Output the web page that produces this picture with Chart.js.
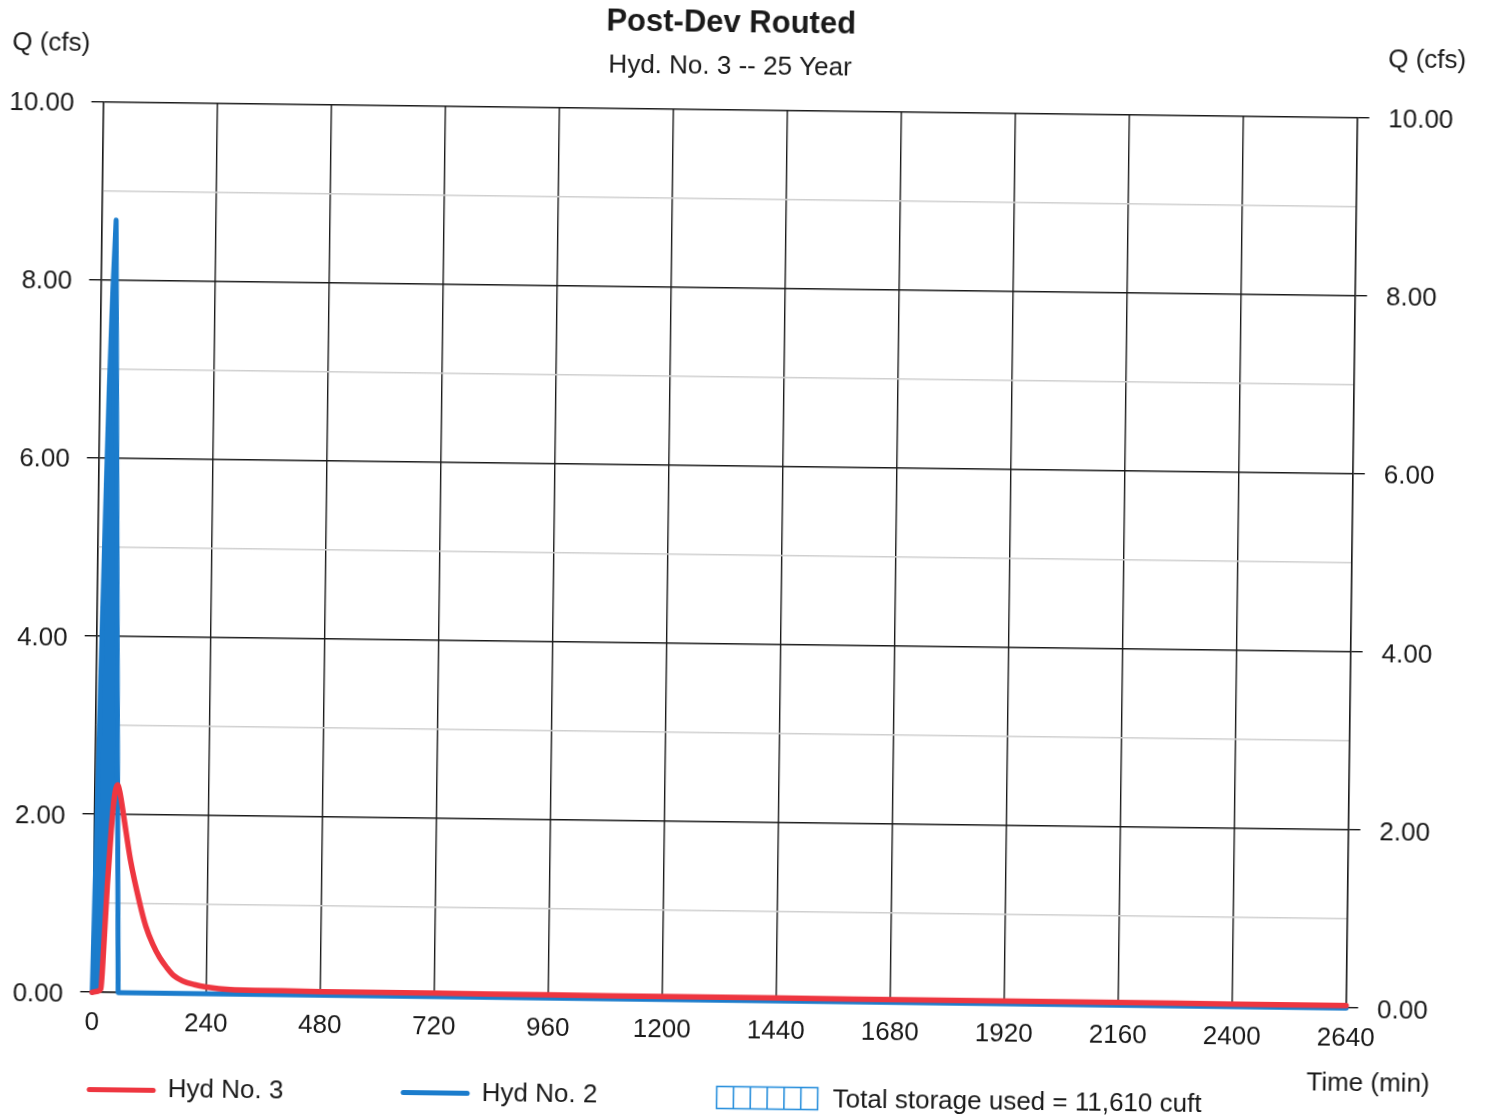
<!DOCTYPE html>
<html>
<head>
<meta charset="utf-8">
<title>Post-Dev Routed</title>
<script src="https://cdn.jsdelivr.net/npm/chart.js@4.4.1/dist/chart.umd.min.js"></script>
<style>
  html, body { margin: 0; padding: 0; background: #ffffff; overflow: hidden; }
  #wrap { position: absolute; left: 0; top: 0; width: 1486px; height: 1117px;
          transform: rotate(0.72deg); transform-origin: 724.75px 554.75px; }
  canvas { display: block; }
</style>
</head>
<body>
<div id="wrap"><canvas id="hydro" width="1486" height="1117"></canvas></div>
<script>
// Outflow hydrograph (Hyd No. 3): time in minutes, flow in cfs
const outTime = [0, 10, 18, 23, 29, 35, 40, 44, 48, 53, 62, 77, 98, 111, 126, 141, 156, 171, 190, 215, 240, 290, 360, 480, 720, 960, 1200, 1440, 1680, 1920, 2160, 2400, 2640];
const outFlow = [0, 0.01, 0.04, 0.5, 1.2, 1.75, 2.12, 2.28, 2.33, 2.25, 1.97, 1.49, 1.0, 0.75, 0.55, 0.4, 0.29, 0.2, 0.14, 0.1, 0.075, 0.05, 0.045, 0.04, 0.038, 0.035, 0.034, 0.032, 0.031, 0.03, 0.03, 0.028, 0.028];

// Inflow hydrograph (Hyd No. 2)
const inTime = [0, 5, 10, 15, 20, 25, 30, 48, 54.6, 2640];
const inFlow = [0, 1.8, 3.6, 5.3, 6.8, 7.9, 8.67, 2.33, 0, 0];

// Axis ticks
const timeTicks = [0, 240, 480, 720, 960, 1200, 1440, 1680, 1920, 2160, 2400, 2640];
const flowMin = 0, flowMax = 10, flowStep = 1;

// Text
const titleText = 'Post-Dev Routed';
const subtitleText = 'Hyd. No. 3 -- 25 Year';
const yTitle = 'Q (cfs)';
const xTitle = 'Time (min)';
const legendLabels = ['Hyd No. 3', 'Hyd No. 2', 'Total storage used = 11,610 cuft'];

const RED = '#ee3640';
const BLUE = '#1b7ccc';
const HATCH = '#2a90dc';
const INK = '#1a1a1a';
const FONT = '"Liberation Sans", Arial, sans-serif';

const toPoints = (xs, ys) => xs.map((x, i) => ({ x: x, y: ys[i] }));

const isMajor = v => Math.round(v) % 2 === 0;

function flowAxis(position) {
  return {
    type: 'linear',
    position: position,
    min: flowMin,
    max: flowMax,
    afterFit: s => { s.width = position === 'left' ? 97.75 : 134.25; },
    ticks: {
      stepSize: flowStep,
      autoSkip: false,
      padding: position === 'left' ? 17 : 19,
      labelOffset: 2.5,
      color: INK,
      font: { family: FONT, size: 26 },
      callback: v => isMajor(v) ? v.toFixed(2) : ''
    },
    grid: {
      display: true,
      drawOnChartArea: position === 'left',
      tickLength: 12,
      lineWidth: 1.4,
      color: ctx => (ctx.tick && !isMajor(ctx.tick.value)) ? '#cfcfcf' : INK,
      tickColor: ctx => (ctx.tick && !isMajor(ctx.tick.value)) ? 'rgba(0,0,0,0)' : INK,
      tickWidth: 1.4
    },
    border: { display: true, color: INK, width: 1.4 }
  };
}

// Titles, axis captions and the legend row
const annotations = {
  id: 'annotations',
  afterDraw(chart) {
    const ctx = chart.ctx;
    ctx.save();
    ctx.fillStyle = INK;
    ctx.textBaseline = 'middle';

    ctx.textAlign = 'center';
    ctx.font = 'bold 31px ' + FONT;
    ctx.fillText(titleText, 724.5, 23);
    ctx.font = '26px ' + FONT;
    ctx.fillText(subtitleText, 724, 67);

    ctx.textAlign = 'left';
    ctx.fillText(yTitle, 6, 52);
    ctx.fillText(yTitle, 1382, 52);
    ctx.fillText(xTitle, 1313, 1076);

    // legend swatches
    ctx.lineCap = 'round';
    ctx.lineWidth = 5;
    ctx.strokeStyle = RED;
    ctx.beginPath(); ctx.moveTo(96, 1097.4); ctx.lineTo(160, 1097.4); ctx.stroke();
    ctx.strokeStyle = BLUE;
    ctx.beginPath(); ctx.moveTo(410, 1096.5); ctx.lineTo(474, 1096.5); ctx.stroke();

    ctx.lineCap = 'butt';
    ctx.lineWidth = 1.6;
    ctx.strokeStyle = HATCH;
    const bx = 723.5, by = 1086.5, bw = 101, bh = 22, cells = 6;
    ctx.strokeRect(bx, by, bw, bh);
    for (let i = 1; i < cells; i++) {
      const x = bx + bw * i / cells;
      ctx.beginPath(); ctx.moveTo(x, by); ctx.lineTo(x, by + bh); ctx.stroke();
    }

    ctx.fillText(legendLabels[0], 174.5, 1097);
    ctx.fillText(legendLabels[1], 488.5, 1096.5);
    ctx.fillText(legendLabels[2], 839.6, 1098.7);
    ctx.restore();
  }
};

new Chart(document.getElementById('hydro'), {
  type: 'line',
  data: {
    datasets: [
      {
        label: legendLabels[0],
        data: toPoints(outTime, outFlow),
        borderColor: RED,
        borderWidth: 5.5,
        borderCapStyle: 'round',
        pointRadius: 0,
        cubicInterpolationMode: 'monotone',
        fill: false,
        clip: 8,
        order: 0
      },
      {
        label: legendLabels[1],
        data: toPoints(inTime, inFlow),
        borderColor: BLUE,
        borderWidth: 5,
        borderJoinStyle: 'round',
        borderCapStyle: 'round',
        pointRadius: 0,
        tension: 0,
        clip: 8,
        fill: { target: 0, above: BLUE, below: 'rgba(0,0,0,0)' },
        order: 1
      }
    ]
  },
  options: {
    responsive: false,
    animation: false,
    devicePixelRatio: 1,
    layout: { padding: { top: 109.3, left: 0, right: 0, bottom: 0 } },
    plugins: {
      legend: { display: false },
      title: { display: false },
      tooltip: { enabled: false }
    },
    scales: {
      x: {
        type: 'linear',
        min: 0,
        max: 2640,
        afterFit: s => { s.height = 116.8; },
        afterBuildTicks: s => { s.ticks = timeTicks.map(v => ({ value: v })); },
        ticks: {
          autoSkip: false,
          maxRotation: 0,
          padding: 15,
          color: INK,
          font: { family: FONT, size: 26 },
          callback: v => String(v)
        },
        grid: { color: INK, lineWidth: 1.4, drawTicks: false },
        border: { display: true, color: INK, width: 1.4 }
      },
      y: flowAxis('left'),
      y2: flowAxis('right')
    }
  },
  plugins: [annotations]
});
</script>
</body>
</html>
